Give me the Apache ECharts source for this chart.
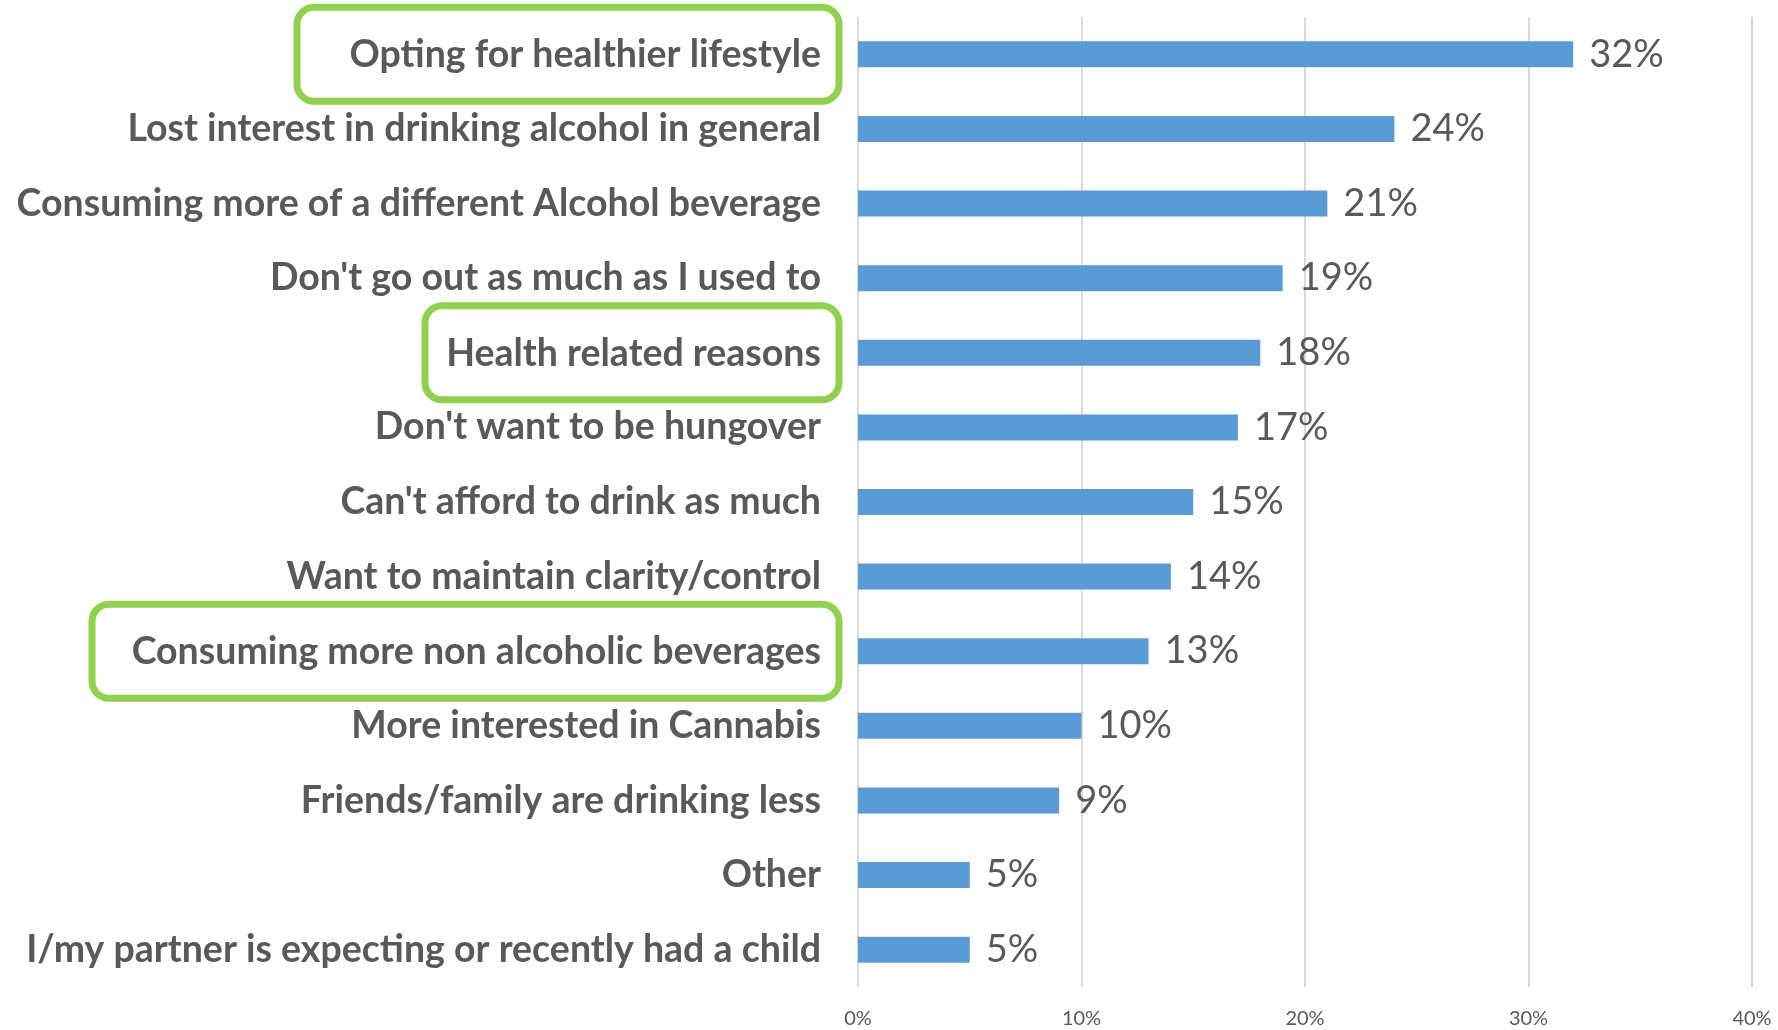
<!DOCTYPE html>
<html>
<head>
<meta charset="utf-8">
<script src="https://cdn.jsdelivr.net/npm/echarts@6/dist/echarts.min.js"></script>
<style>
  html, body { margin: 0; padding: 0; background: #ffffff; }
  #chart { width: 1778px; height: 1030px; }
</style>
</head>
<body>
<div id="chart"></div>
<script>
// Reasons for drinking less, share of respondents (%)
var categories = [
  "Opting for healthier lifestyle",
  "Lost interest in drinking alcohol in general",
  "Consuming more of a different Alcohol beverage",
  "Don't go out as much as I used to",
  "Health related reasons",
  "Don't want to be hungover",
  "Can't afford to drink as much",
  "Want to maintain clarity/control",
  "Consuming more non alcoholic beverages",
  "More interested in Cannabis",
  "Friends/family are drinking less",
  "Other",
  "I/my partner is expecting or recently had a child"
];
var shares = [32, 24, 21, 19, 18, 17, 15, 14, 13, 10, 9, 5, 5];
var highlighted = [
  "Opting for healthier lifestyle",
  "Health related reasons",
  "Consuming more non alcoholic beverages"
];
var tickMax = 40;
var tickStep = 10;

var FONT = "Lato, 'Open Sans', sans-serif";
var TEXT = "#595959";
var GREEN = "#92D050";
var LABEL_SIZE = 37.5;
var PAD_R = 18;
var PAD_V = 27;

// Inner width of each green frame around a highlighted reason
var frameWidth = {
  "Opting for healthier lifestyle": 542,
  "Health related reasons": 414,
  "Consuming more non alcoholic beverages": 747
};

var rich = {
  plain: { fontFamily: FONT, fontWeight: "bold", fontSize: LABEL_SIZE, color: TEXT,
           lineHeight: 46, padding: [PAD_V, PAD_R, PAD_V, 0] }
};
highlighted.forEach(function (name, i) {
  rich["hl" + i] = { fontFamily: FONT, fontWeight: "bold", fontSize: LABEL_SIZE, color: TEXT,
                     lineHeight: 46, padding: [PAD_V + 2, PAD_R, PAD_V, 0],
                     width: frameWidth[name] - PAD_R, align: "right",
                     borderWidth: 7, borderColor: GREEN, borderRadius: 17 };
});

var chart = echarts.init(document.getElementById("chart"), null, { renderer: "canvas" });
chart.setOption({
  animation: false,
  backgroundColor: "#ffffff",
  grid: { left: 858, right: 26, top: 17, bottom: 43, containLabel: false },
  xAxis: {
    type: "value",
    min: 0,
    max: tickMax,
    interval: tickStep,
    axisLine: { show: false },
    axisTick: { show: false },
    splitLine: { show: true, lineStyle: { color: "#D9D9D9", width: 2 } },
    axisLabel: { formatter: "{value}%", color: TEXT, fontFamily: FONT, fontSize: 20, margin: 22 }
  },
  yAxis: {
    type: "category",
    inverse: true,
    data: categories,
    axisLine: { show: false },
    axisTick: { show: false },
    splitLine: { show: false },
    axisLabel: {
      interval: 0,
      hideOverlap: false,
      margin: 19,
      rich: rich,
      formatter: function (value) {
        var k = highlighted.indexOf(value);
        return k >= 0 ? "{hl" + k + "|" + value + "}" : "{plain|" + value + "}";
      }
    }
  },
  series: [{
    type: "bar",
    data: shares,
    barWidth: 26,
    itemStyle: { color: "#5B9BD5" },
    label: {
      show: true,
      position: "right",
      distance: 16,
      formatter: "{c}%",
      color: TEXT,
      fontFamily: FONT,
      fontSize: 38
    }
  }]
});
</script>
</body>
</html>
